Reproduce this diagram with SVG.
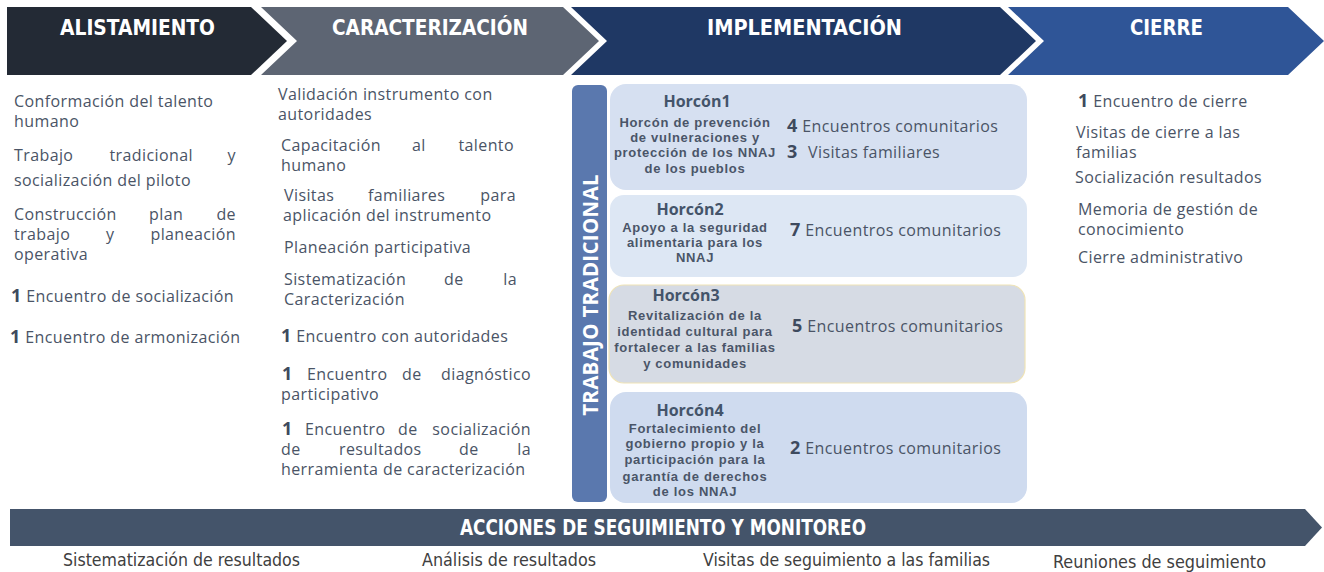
<svg xmlns="http://www.w3.org/2000/svg" width="1324" height="572" viewBox="0 0 1324 572">
<style>
.hd{font-family:"Liberation Sans Narrow","DejaVu Sans Condensed","Liberation Sans",sans-serif;font-weight:bold;font-size:21px;fill:#ffffff}
.b{font-family:"Open Sans","Liberation Sans",sans-serif;font-size:16px;letter-spacing:0.4px;fill:#4a5466}
.n{font-weight:bold;font-size:18px;fill:#3e4a5e}
.ht{font-family:"Open Sans","Liberation Sans",sans-serif;font-weight:bold;font-size:16px;fill:#44546a;text-anchor:middle}
.hs{font-family:"Liberation Sans",Arial,sans-serif;font-weight:bold;font-size:13px;letter-spacing:0.7px;fill:#4a5568;text-anchor:middle}
.e{text-anchor:end}
.bt{font-family:"Liberation Sans Narrow","DejaVu Sans Condensed","Liberation Sans",sans-serif;font-size:17px;fill:#404040}
</style>

<g id="phase-alistamiento">
<polygon points="7,7 251,7 287,41 251,75 7,75" fill="#232a35"/>
<text class="hd" x="60" y="35" textLength="155" lengthAdjust="spacingAndGlyphs">ALISTAMIENTO</text>
</g>
<g id="phase-caracterizacion">
<polygon points="261,7 563,7 599,41 563,75 261,75 297,41" fill="#5d6573"/>
<text class="hd" x="332" y="35" textLength="196" lengthAdjust="spacingAndGlyphs">CARACTERIZACIÓN</text>
</g>
<g id="phase-implementacion">
<polygon points="571,7 1000,7 1036,41 1000,75 571,75 607,41" fill="#1f3864"/>
<text class="hd" x="707" y="35" textLength="195" lengthAdjust="spacingAndGlyphs">IMPLEMENTACIÓN</text>
</g>
<g id="phase-cierre">
<polygon points="1008,7 1288,7 1324,41 1288,75 1008,75 1044,41" fill="#2f5597"/>
<text class="hd" x="1130" y="35" textLength="73" lengthAdjust="spacingAndGlyphs">CIERRE</text>
</g>

<g id="col-alistamiento">
<text class="b" x="14" y="107">Conformación del talento</text>
<text class="b" x="14" y="127">humano</text>
<text class="b" x="14" y="161">Trabajo</text>
<text class="b" x="109.5" y="161">tradicional</text>
<text class="b e" x="236" y="161">y</text>
<text class="b" x="14" y="186">socialización del piloto</text>
<text class="b" x="14" y="220">Construcción</text>
<text class="b" x="149" y="220">plan</text>
<text class="b e" x="236" y="220">de</text>
<text class="b" x="14" y="240">trabajo</text>
<text class="b" x="106" y="240">y</text>
<text class="b e" x="236" y="240">planeación</text>
<text class="b" x="14" y="260">operativa</text>
<text class="b" x="11" y="302"><tspan class="n">1</tspan> Encuentro de socialización</text>
<text class="b" x="10" y="343"><tspan class="n">1</tspan> Encuentro de armonización</text>
</g>

<g id="col-caracterizacion">
<text class="b" x="278" y="100">Validación instrumento con</text>
<text class="b" x="278" y="120">autoridades</text>
<text class="b" x="281" y="151">Capacitación</text>
<text class="b" x="412" y="151">al</text>
<text class="b e" x="514" y="151">talento</text>
<text class="b" x="281" y="171">humano</text>
<text class="b" x="284" y="201">Visitas</text>
<text class="b" x="368" y="201">familiares</text>
<text class="b e" x="516" y="201">para</text>
<text class="b" x="283" y="221">aplicación del instrumento</text>
<text class="b" x="284" y="253">Planeación participativa</text>
<text class="b" x="284" y="285">Sistematización</text>
<text class="b" x="444" y="285">de</text>
<text class="b e" x="517" y="285">la</text>
<text class="b" x="284" y="305">Caracterización</text>
<text class="b" x="281" y="342"><tspan class="n">1</tspan> Encuentro con autoridades</text>
<text class="b n" x="282" y="380">1</text>
<text class="b" x="307" y="380">Encuentro</text>
<text class="b" x="402" y="380">de</text>
<text class="b e" x="531" y="380">diagnóstico</text>
<text class="b" x="281" y="400">participativo</text>
<text class="b n" x="282" y="435">1</text>
<text class="b" x="305" y="435">Encuentro</text>
<text class="b" x="398" y="435">de</text>
<text class="b e" x="531" y="435">socialización</text>
<text class="b" x="281" y="455">de</text>
<text class="b" x="339" y="455">resultados</text>
<text class="b" x="459" y="455">de</text>
<text class="b e" x="531" y="455">la</text>
<text class="b" x="281" y="475">herramienta de caracterización</text>
</g>

<g id="trabajo-tradicional">
<rect x="572" y="85" width="35" height="417" rx="6" fill="#5a78ae"/>
<text x="598" y="295" transform="rotate(-90 598 295)" text-anchor="middle" font-family="Open Sans, Liberation Sans, sans-serif" font-weight="bold" font-size="20.5" letter-spacing="0.3" fill="#ffffff">TRABAJO TRADICIONAL</text>
</g>

<g id="horcon1">
<rect x="610" y="84" width="417" height="106" rx="16" fill="#d6e0f1"/>
<text class="ht" x="697" y="107">Horcón1</text>
<text class="hs" x="695" y="127">Horcón de prevención</text>
<text class="hs" x="695" y="142">de vulneraciones y</text>
<text class="hs" x="695" y="157">protección de los NNAJ</text>
<text class="hs" x="695" y="173">de los pueblos</text>
<text class="b" x="787" y="132"><tspan class="n">4</tspan> Encuentros comunitarios</text>
<text class="b" x="787" y="158"><tspan class="n">3</tspan><tspan x="808">Visitas familiares</tspan></text>
</g>
<g id="horcon2">
<rect x="610" y="195" width="417" height="82" rx="14" fill="#dde7f4"/>
<text class="ht" x="690" y="215">Horcón2</text>
<text class="hs" x="695" y="232">Apoyo a la seguridad</text>
<text class="hs" x="695" y="247">alimentaria para los</text>
<text class="hs" x="695" y="262">NNAJ</text>
<text class="b" x="790" y="236"><tspan class="n">7</tspan> Encuentros comunitarios</text>
</g>
<g id="horcon3">
<rect x="609" y="285" width="416" height="98" rx="15" fill="#d6dbe4" stroke="#efe3b6" stroke-width="1.2"/>
<text class="ht" x="686" y="301">Horcón3</text>
<text class="hs" x="695" y="320">Revitalización de la</text>
<text class="hs" x="695" y="336">identidad cultural para</text>
<text class="hs" x="695" y="352">fortalecer a las familias</text>
<text class="hs" x="695" y="368">y comunidades</text>
<text class="b" x="792" y="332"><tspan class="n">5</tspan> Encuentros comunitarios</text>
</g>
<g id="horcon4">
<rect x="610" y="392" width="417" height="111" rx="16" fill="#cfdbef"/>
<text class="ht" x="690" y="416">Horcón4</text>
<text class="hs" x="695" y="433">Fortalecimiento del</text>
<text class="hs" x="695" y="448">gobierno propio y la</text>
<text class="hs" x="695" y="464">participación para la</text>
<text class="hs" x="695" y="481">garantía de derechos</text>
<text class="hs" x="695" y="496">de los NNAJ</text>
<text class="b" x="790" y="454"><tspan class="n">2</tspan> Encuentros comunitarios</text>
</g>

<g id="col-cierre">
<text class="b" x="1078" y="107"><tspan class="n">1</tspan> Encuentro de cierre</text>
<text class="b" x="1076" y="138">Visitas de cierre a las</text>
<text class="b" x="1076" y="158">familias</text>
<text class="b" x="1075" y="183">Socialización resultados</text>
<text class="b" x="1078" y="215">Memoria de gestión de</text>
<text class="b" x="1078" y="235">conocimiento</text>
<text class="b" x="1078" y="263">Cierre administrativo</text>
</g>

<g id="seguimiento">
<polygon points="10,509 1305,509 1322,527.5 1305,546 10,546" fill="#44546a"/>
<text class="hd" x="460" y="535" font-size="18" textLength="406" lengthAdjust="spacingAndGlyphs">ACCIONES DE SEGUIMIENTO Y MONITOREO</text>
</g>
<g id="seguimiento-items">
<text class="bt" x="63" y="566" textLength="237" lengthAdjust="spacingAndGlyphs">Sistematización de resultados</text>
<text class="bt" x="422" y="566" textLength="174" lengthAdjust="spacingAndGlyphs">Análisis de resultados</text>
<text class="bt" x="703" y="566" textLength="287" lengthAdjust="spacingAndGlyphs">Visitas de seguimiento a las familias</text>
<text class="bt" x="1053" y="568" textLength="213" lengthAdjust="spacingAndGlyphs">Reuniones de seguimiento</text>
</g>
</svg>
